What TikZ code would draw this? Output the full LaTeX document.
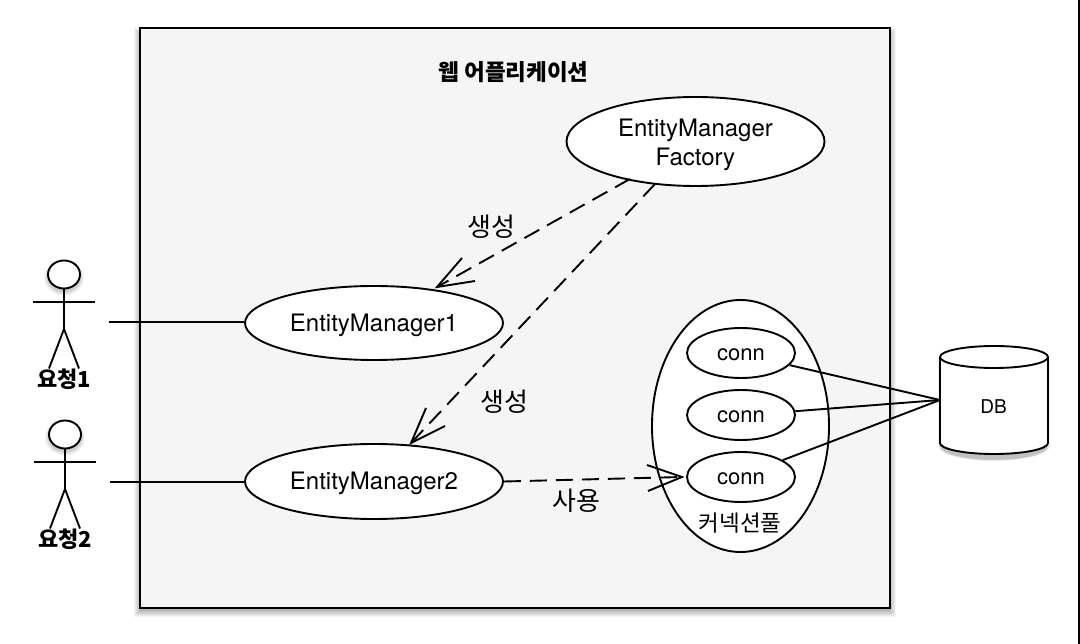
\documentclass[tikz,border=0pt]{standalone}
\usepackage{fontspec}
\setmainfont{TeX Gyre Heros}
\newfontfamily\cjk{Noto Sans CJK KR}
\usetikzlibrary{shapes.geometric,calc}
\newcommand{\lowered}[2]{\rule{0pt}{#1}#2}
\tikzset{
  x=1pt,y=-1pt,
  stroke/.style={draw=black,line width=1.9pt},
  usecase/.style={ellipse,draw=black,line width=1.9pt,fill=white,inner sep=0pt,align=center,font=\fontsize{24}{28.5}\selectfont},
  connnode/.style={usecase,minimum width=108pt,minimum height=50pt,font=\fontsize{22}{24}\selectfont},
  dep/.style={draw=black,line width=1.9pt,dash pattern=on 17pt off 9pt},
  lbl/.style={font=\cjk\fontsize{26}{30}\selectfont,inner sep=0pt},
  actorlbl/.style={font=\cjk\bfseries\fontsize{22}{24}\selectfont,inner sep=0pt},
  haze/.style={fill=black,opacity=.045},
}
\begin{document}
\begin{tikzpicture}
\useasboundingbox (0,0) rectangle (1080,644);
\fill[white] (0,0) rectangle (1080,644);
\fill[black] (1078,0) rectangle (1080,644);
% application frame with soft shadow
\foreach \g in {0,1,...,6}{
  \path[haze] (134+\g,28+\g) rectangle (896-\g,617-\g);
}
\node[draw=black,line width=2.2pt,outer sep=0pt,fill=black!4,minimum width=750pt,minimum height=580pt,inner sep=0pt,anchor=north west] (app) at (140,28) {};
\node[font=\cjk\bfseries\fontsize{22.5}{26}\selectfont,inner sep=0pt] (title) at (513.5,72) {웹 어플리케이션};
% ellipses
\node[usecase,minimum width=258pt,minimum height=89pt] (emf) at (695.5,141.5) {\lowered{24pt}{EntityManager}\\Factory};
\node[usecase,minimum width=258pt,minimum height=74pt] (em1) at (374,323) {\lowered{22pt}{EntityManager1}};
\node[usecase,minimum width=258pt,minimum height=75pt] (em2) at (374,481.5) {\lowered{22pt}{EntityManager2}};
\node[usecase,minimum width=177pt,minimum height=252pt] (pool) at (740.5,426) {};
\node[connnode] (c1) at (741,353) {\lowered{16pt}{conn}};
\node[connnode] (c2) at (741,415) {\lowered{16pt}{conn}};
\node[connnode] (c3) at (741,477) {\lowered{16pt}{conn}};
\node[font=\cjk\fontsize{22.5}{26}\selectfont,inner sep=0pt] (pooltxt) at (740,523) {커넥션풀};
% DB cylinder
\foreach \g in {0,1,...,5}{
  \path[haze] (938+\g*0.6,357) -- (938+\g*0.6,443+3)
    arc[start angle=180,end angle=360,x radius=56-\g*0.6,y radius=-(15-\g*0.3)] -- (1050-\g*0.6,357) -- cycle;
}
\node[minimum width=108pt,minimum height=108pt,inner sep=0pt,outer sep=0pt] (db) at (994,400) {};
\draw[stroke,fill=white] (db.north west |- 0,357) -- (db.north west |- 0,443)
  arc[start angle=180,end angle=360,x radius=54,y radius=-11] -- (db.north east |- 0,357)
  arc[start angle=0,end angle=180,x radius=54,y radius=-11] -- cycle;
\draw[stroke] (db.north west |- 0,357) arc[start angle=180,end angle=360,x radius=54,y radius=-11];
\node[font=\fontsize{19}{22}\selectfont,inner sep=0pt] (dbl) at (993.5,407) {DB};
% actors
\foreach \n/\cx/\cy in {a/64/274.5,b/65/434.5}{
  \foreach \g in {0,1,...,4}{
    \path[haze] (\cx,\cy+3) ellipse[x radius=20-\g,y radius=18-\g];
  }
  \draw[line width=1.9pt,fill=white] (\cx,\cy) ellipse[x radius=16,y radius=14];
  \draw[stroke] (\cx,\cy+14) -- (\cx,\cy+54.5);
  \draw[stroke] (\cx-31,\cy+27.5) -- (\cx+31,\cy+27.5);
  \draw[stroke] (\cx-15,\cy+94) -- (\cx,\cy+54.5) -- (\cx+15,\cy+94);
}
\node[actorlbl] (l1) at (64,379) {요청1};
\node[actorlbl] (l2) at (65,539) {요청2};
\coordinate (a1) at (109,322);
\coordinate (a2) at (110,482);
\draw[stroke] (a1) -- (em1.west |- a1);
\draw[stroke] (a2) -- (em2.west |- a2);
% connectors to DB
\draw[stroke] (c1.-14) -- (db.west);
\draw[stroke] (c2.4) -- (db.west);
\draw[stroke] (c3.22) -- (db.west);
% dashed dependencies
\coordinate (t1) at (437,287);
\coordinate (t2) at (411,443);
\coordinate (t3) at (682,477);
\coordinate (f1) at (630,179);
\coordinate (f2) at (655,184);
\draw[dep] (f1) -- (t1);
\draw[dep] (f2) -- (t2);
\draw[dep] (em2.east) -- (t3);
\draw[stroke] (462,258) -- (t1) -- (475,281);
\draw[stroke] (426,408) -- (t2) -- (445,426);
\draw[stroke] (647,465) -- (t3) -- (648,491);
\node[lbl] (s1) at (491.5,227) {생성};
\node[lbl] (s2) at (504.5,402) {생성};
\node[lbl] (s3) at (576.5,501) {사용};
\end{tikzpicture}
\end{document}
